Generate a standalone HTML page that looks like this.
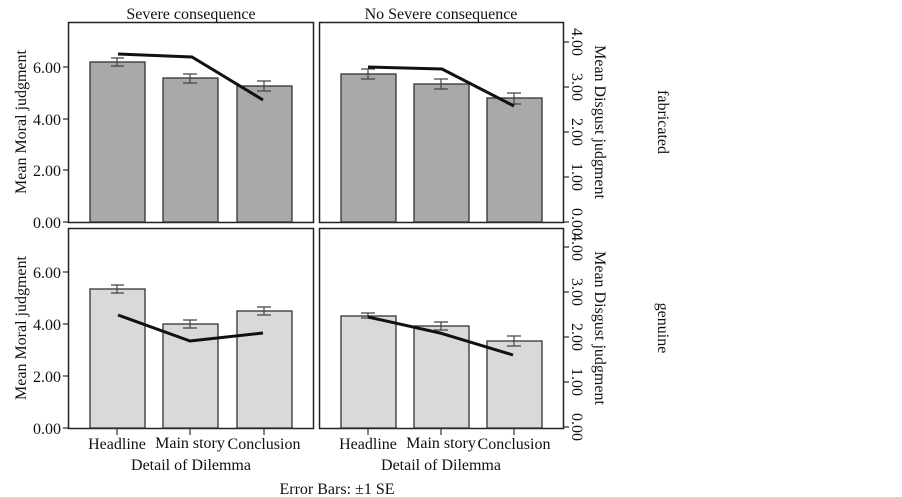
<!DOCTYPE html>
<html><head><style>body{margin:0;background:#fff}svg{display:block}text{font-family:"Liberation Serif",serif;fill:#111}</style></head><body>
<svg width="902" height="497" viewBox="0 0 902 497">
<g font-size="16">
<text x="191" y="19" text-anchor="middle">Severe consequence</text>
<text x="441" y="19" text-anchor="middle">No Severe consequence</text>
</g>
<!-- panels -->
<g fill="none" stroke="#222" stroke-width="1.5">
<rect x="68.5" y="22.5" width="245" height="200"/>
<rect x="319.5" y="22.5" width="244" height="200"/>
<rect x="68.5" y="228.5" width="245" height="200"/>
<rect x="319.5" y="228.5" width="244" height="200"/>
</g>
<!-- bars -->
<g stroke="#333" stroke-width="1.3">
<g fill="#a9a9a9">
<rect x="90" y="62" width="55" height="160"/><rect x="163" y="78" width="55" height="144"/><rect x="237" y="86" width="55" height="136"/>
<rect x="341" y="74" width="55" height="148"/><rect x="414" y="84" width="55" height="138"/><rect x="487" y="98" width="55" height="124"/>
</g>
<g fill="#d9d9d9">
<rect x="90" y="289" width="55" height="139"/><rect x="163" y="324" width="55" height="104"/><rect x="237" y="311" width="55" height="117"/>
<rect x="341" y="316" width="55" height="112"/><rect x="414" y="326" width="55" height="102"/><rect x="487" y="341" width="55" height="87"/>
</g>
</g>
<!-- error bars -->
<g stroke="#444" stroke-width="1.2" fill="none">
<path d="M117 58v8M111 58h13M111 66h13"/><path d="M190 74v9M183 74h14M183 83h14"/><path d="M264 81v10M257 81h14M257 91h14"/>
<path d="M368 69v10M361 69h14M361 79h14"/><path d="M441 79v10M434 79h14M434 89h14"/><path d="M514 93v11M507 93h14M507 104h14"/>
<path d="M117 285v8M111 285h13M111 293h13"/><path d="M190 320v8M183 320h14M183 328h14"/><path d="M264 307v8M257 307h14M257 315h14"/>
<path d="M368 313v5M361 313h14M361 318h14"/><path d="M441 322v8M434 322h14M434 330h14"/><path d="M514 336v10M507 336h14M507 346h14"/>
</g>
<!-- lines -->
<g stroke="#111" stroke-width="3" fill="none">
<polyline points="118,54 192,57 263,100"/>
<polyline points="368,67 442,69 514,106"/>
<polyline points="118,315 190,341 263,333"/>
<polyline points="368,317 440,333 513,355"/>
</g>
<!-- left ticks -->
<g stroke="#333" stroke-width="1.2">
<path d="M63 222h5M63 170h5M63 119h5M63 67h5"/>
<path d="M63 428h5M63 376h5M63 324h5M63 272h5"/>
<path d="M564 222h5M564 177h5M564 132h5M564 87h5M564 42h5"/>
<path d="M564 427h5M564 382h5M564 337h5M564 292h5M564 247h5"/>
<path d="M117 429v6M190 429v6M264 429v6M368 429v6M441 429v6M514 429v6"/>
</g>
<g font-size="16" text-anchor="end">
<text x="61" y="228">0.00</text><text x="61" y="176">2.00</text><text x="61" y="125">4.00</text><text x="61" y="73">6.00</text>
<text x="61" y="434">0.00</text><text x="61" y="382">2.00</text><text x="61" y="330">4.00</text><text x="61" y="278">6.00</text>
</g>
<g font-size="16">
<text transform="translate(26,122) rotate(-90)" text-anchor="middle">Mean Moral judgment</text>
<text transform="translate(26,328) rotate(-90)" text-anchor="middle">Mean Moral judgment</text>
<g text-anchor="middle">
<text transform="translate(572,222) rotate(90)">0.00</text><text transform="translate(572,177) rotate(90)">1.00</text><text transform="translate(572,132) rotate(90)">2.00</text><text transform="translate(572,87) rotate(90)">3.00</text><text transform="translate(572,42) rotate(90)">4.00</text>
<text transform="translate(572,427) rotate(90)">0.00</text><text transform="translate(572,382) rotate(90)">1.00</text><text transform="translate(572,337) rotate(90)">2.00</text><text transform="translate(572,292) rotate(90)">3.00</text><text transform="translate(572,247) rotate(90)">4.00</text>
<text transform="translate(595,122) rotate(90)">Mean Disgust judgment</text>
<text transform="translate(595,328) rotate(90)">Mean Disgust judgment</text>
<text transform="translate(658,122) rotate(90)">fabricated</text>
<text transform="translate(658,328) rotate(90)">genuine</text>
<text x="117" y="449">Headline</text><text x="190" y="448">Main story</text><text x="264" y="449">Conclusion</text>
<text x="368" y="449">Headline</text><text x="441" y="448">Main story</text><text x="514" y="449">Conclusion</text>
<text x="191" y="470">Detail of Dilemma</text><text x="441" y="470">Detail of Dilemma</text>
<text x="337" y="494">Error Bars: ±1 SE</text>
</g>
</g>
</svg>
</body></html>
